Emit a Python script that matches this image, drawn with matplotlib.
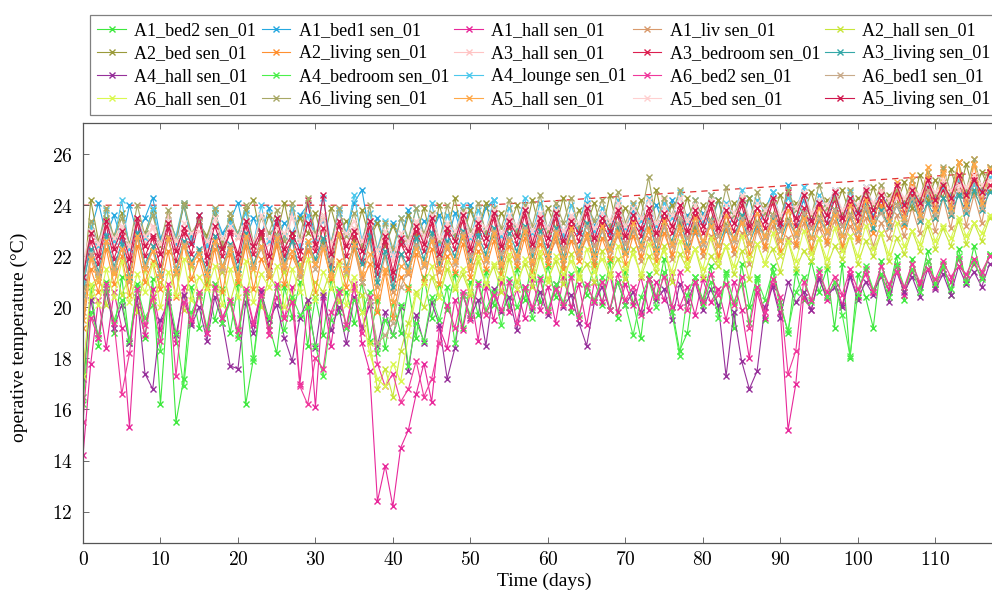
import numpy as np
import matplotlib.pyplot as plt
from matplotlib.ticker import FuncFormatter

plt.rcParams['mathtext.fontset'] = 'cm'

# daily samples (day 0 .. 117), operative temperature in degC
a1_bed2 = [16.5, 20.8, 18.5, 21.0, 19.0, 21.2, 18.6, 20.9, 18.8, 21.1, 16.2, 20.5, 15.5, 17.2, 20.8, 19.2, 21.0, 19.5, 20.7, 19.0,
           20.9, 16.2, 18.0, 20.6, 19.3, 18.2, 20.8, 19.6, 21.0, 18.5, 20.4, 18.9, 21.1, 19.8, 20.6, 19.4, 21.0, 18.7, 20.3, 18.4,
           20.2, 19.0, 20.8, 18.8, 21.2, 19.6, 20.9, 19.9, 21.3, 19.2, 21.0, 19.7, 21.4, 20.1, 21.6, 20.0, 21.5, 20.3, 21.8, 20.2,
           21.6, 20.4, 21.9, 19.8, 21.5, 20.5, 21.7, 20.1, 21.8, 19.6, 21.4, 20.2, 18.8, 21.3, 20.4, 21.9, 20.0, 18.3, 19.0, 21.2,
           20.3, 21.6, 19.9, 21.4, 19.2, 21.7, 20.0, 21.2, 19.5, 21.6, 20.2, 19.0, 21.4, 20.3, 21.8, 20.6, 21.5, 19.2, 21.7, 18.0,
           21.3, 20.4, 19.2, 21.8, 20.6, 22.0, 20.3, 21.9, 20.8, 22.2, 20.9, 21.7, 20.5, 22.3, 21.0, 22.4, 21.2, 22.1]
a1_bed1 = [21.0, 23.0, 24.1, 22.8, 23.6, 22.6, 24.0, 22.9, 23.5, 24.3, 22.7, 23.4, 22.5, 24.0, 22.8, 23.3, 22.6, 23.7, 22.9, 23.4,
           24.1, 22.7, 23.5, 22.8, 23.9, 22.6, 23.3, 22.9, 23.6, 24.0, 22.8, 23.4, 22.5, 23.7, 22.9, 24.1, 24.6, 22.8, 23.5, 22.4,
           23.3, 22.6, 23.8, 22.7, 23.4, 22.9, 23.6, 22.5, 23.7, 22.8, 24.0, 22.9, 23.9, 24.2, 22.8, 23.5, 23.0, 23.8, 22.9, 23.6,
           23.1, 23.9, 22.9, 23.5, 23.0, 24.1, 23.2, 23.7, 22.9, 23.6, 23.1, 23.8, 23.0, 23.5, 24.0, 23.2, 24.2, 23.1, 23.6, 22.9,
           23.7, 23.2, 24.2, 23.0, 23.6, 23.3, 24.3, 23.1, 23.8, 24.5, 23.2, 24.8, 23.3, 24.2, 23.4, 24.0, 23.3, 24.4, 23.5, 24.0,
           23.4, 24.1, 23.6, 24.2, 23.5, 24.3, 23.7, 24.6, 23.8, 24.4, 23.9, 24.7, 24.0, 24.5, 24.1, 24.9, 24.2, 24.6]
a1_hall = [14.2, 17.8, 20.3, 18.4, 20.6, 19.2, 15.3, 20.1, 18.9, 20.7, 19.1, 20.4, 18.6, 20.8, 19.4, 20.5, 19.0, 20.9, 19.6, 20.2,
           18.9, 20.6, 19.3, 20.7, 19.1, 20.4, 19.6, 20.8, 17.0, 20.1, 16.1, 20.4, 18.5, 20.6, 19.2, 20.9, 18.6, 17.5, 12.4, 13.8,
           12.2, 14.5, 15.2, 16.6, 17.8, 16.3, 19.2, 18.4, 20.3, 19.1, 20.6, 18.7, 20.8, 19.5, 21.0, 19.8, 20.7, 19.6, 21.1, 19.9,
           20.8, 19.4, 21.2, 20.0, 20.9, 19.3, 21.0, 20.2, 21.3, 19.8, 20.9, 20.1, 21.2, 19.9, 21.0, 20.3, 21.4, 20.0, 20.8, 19.7,
           21.1, 20.2, 20.7, 19.5, 21.0, 19.9, 18.0, 20.6, 19.6, 20.9, 19.8, 15.2, 17.0, 20.4, 19.9, 21.2, 20.3, 21.0, 20.1, 21.3,
           20.4, 21.5, 20.6, 21.2, 20.7, 21.6, 20.5, 21.4, 20.9, 21.8, 20.8, 21.5, 21.0, 21.9, 21.1, 21.7, 21.2, 22.0]
a1_liv = [19.8, 22.0, 21.2, 22.6, 21.4, 22.3, 21.0, 22.7, 21.5, 22.4, 21.2, 22.8, 21.3, 22.5, 21.6, 22.2, 21.1, 22.6, 21.4, 22.3,
          21.0, 22.5, 21.6, 22.8, 21.3, 22.4, 21.5, 22.7, 21.2, 22.3, 21.7, 22.6, 21.4, 22.9, 21.5, 22.4, 21.2, 22.6, 20.8, 22.0,
          20.6, 22.1, 21.3, 22.5, 21.6, 22.7, 21.4, 22.3, 21.8, 22.8, 21.5, 22.6, 21.9, 22.9, 21.6, 22.7, 21.8, 23.0, 21.7, 22.8,
          21.9, 22.6, 21.7, 22.9, 22.0, 22.7, 21.8, 23.1, 21.9, 22.8, 22.1, 23.0, 21.8, 22.7, 22.0, 23.2, 21.9, 22.9, 22.2, 23.0,
          22.0, 22.8, 21.9, 23.1, 22.1, 22.9, 21.7, 23.0, 22.3, 23.2, 22.0, 22.7, 22.4, 23.3, 22.2, 23.1, 22.5, 23.4, 22.3, 23.2,
          22.6, 23.5, 22.4, 23.3, 22.7, 23.6, 22.8, 23.9, 22.9, 24.1, 23.0, 24.3, 23.1, 24.6, 23.2, 24.4, 23.3, 24.8]
a2_hall = [17.5, 20.4, 21.3, 20.1, 21.6, 20.5, 21.2, 19.8, 21.5, 20.3, 21.0, 20.6, 21.4, 19.9, 21.7, 20.4, 21.1, 20.7, 21.5, 20.2,
           21.3, 20.5, 21.6, 20.0, 21.2, 20.8, 21.4, 20.3, 21.7, 20.1, 21.0, 20.6, 21.5, 20.2, 21.3, 20.7, 20.5, 18.6, 16.8, 17.6,
           16.5, 18.3, 19.4, 20.6, 20.0, 21.2, 20.4, 21.5, 20.7, 21.3, 20.5, 21.8, 20.9, 21.6, 20.6, 21.9, 21.0, 21.7, 20.8, 22.0,
           21.1, 21.8, 20.9, 22.1, 21.2, 21.7, 21.0, 22.2, 21.3, 21.9, 21.1, 22.3, 21.2, 22.0, 21.4, 22.4, 21.0, 22.1, 21.5, 22.3,
           21.2, 22.0, 21.6, 22.4, 21.3, 22.2, 21.1, 22.5, 21.7, 22.3, 21.4, 22.6, 21.5, 22.2, 21.8, 22.7, 21.6, 22.4, 21.9, 22.8,
           21.7, 22.6, 22.0, 22.9, 21.8, 22.7, 22.1, 23.0, 22.2, 23.2, 22.3, 23.1, 22.4, 23.4, 22.5, 23.3, 22.6, 23.5]
a2_bed = [20.5, 24.2, 22.6, 23.5, 22.8, 23.7, 22.5, 23.4, 22.9, 23.8, 22.4, 23.6, 22.7, 24.0, 22.6, 23.3, 22.8, 23.7, 22.5, 23.5,
          22.9, 23.8, 24.2, 22.7, 23.6, 22.8, 24.1, 22.6, 23.5, 22.9, 23.7, 22.5, 23.9, 22.8, 23.4, 22.6, 23.8, 22.7, 23.3, 22.4,
          23.2, 22.5, 23.6, 22.8, 23.9, 22.6, 24.0, 22.9, 24.3, 22.7, 23.8, 23.0, 24.1, 22.8, 23.7, 23.1, 24.0, 22.9, 24.2, 23.0,
          23.9, 23.1, 24.3, 22.9, 23.8, 23.2, 24.1, 23.0, 24.4, 23.1, 23.9, 23.3, 24.2, 23.0, 24.6, 23.2, 24.0, 23.3, 24.3, 23.1,
          24.0, 23.4, 24.2, 23.2, 24.1, 23.5, 24.3, 23.3, 24.0, 23.6, 24.4, 23.4, 24.1, 23.7, 24.5, 23.5, 24.2, 23.8, 24.6, 23.6,
          24.3, 23.9, 24.7, 23.8, 24.4, 24.0, 24.9, 23.9, 25.2, 24.2, 25.0, 24.3, 25.4, 24.4, 25.6, 24.5, 25.3, 24.6]
a2_living = [19.2, 21.5, 20.6, 22.3, 20.9, 22.0, 20.5, 22.4, 21.0, 21.8, 20.7, 22.2, 20.4, 22.5, 21.1, 21.9, 20.8, 22.3, 20.6, 22.1,
             21.0, 22.4, 20.7, 21.9, 21.2, 22.5, 20.9, 22.0, 21.3, 22.2, 20.6, 22.4, 21.1, 21.8, 20.8, 22.3, 21.0, 21.7, 19.8, 21.4,
             19.6, 21.2, 20.7, 22.1, 21.0, 22.3, 20.9, 22.0, 21.4, 22.5, 21.2, 22.2, 21.5, 22.6, 21.3, 22.4, 21.6, 22.7, 21.4, 22.5,
             21.7, 22.8, 21.5, 22.6, 21.8, 22.9, 21.6, 22.7, 21.9, 23.0, 21.7, 22.8, 22.0, 23.1, 21.8, 22.9, 22.1, 23.2, 21.9, 23.0,
             22.2, 23.3, 22.0, 23.1, 22.3, 23.4, 22.1, 23.2, 22.4, 23.5, 22.2, 23.3, 22.5, 23.6, 22.3, 23.4, 22.6, 23.7, 22.4, 23.5,
             22.7, 23.8, 22.9, 24.0, 23.1, 24.4, 23.2, 24.8, 23.4, 25.1, 23.5, 25.4, 23.6, 25.7, 23.8, 25.8, 23.9, 25.5]
a3_hall = [21.5, 22.9, 22.2, 23.4, 22.4, 23.1, 22.0, 23.5, 22.5, 23.2, 22.1, 23.6, 22.3, 23.0, 22.6, 23.3, 22.2, 23.5, 22.4, 23.1,
           22.7, 23.4, 22.3, 23.6, 22.5, 23.2, 22.1, 23.7, 22.6, 23.3, 22.4, 23.5, 22.2, 23.8, 22.5, 23.1, 22.7, 23.4, 21.9, 23.0,
           21.8, 22.9, 22.4, 23.3, 22.6, 23.6, 22.3, 23.2, 22.8, 23.7, 22.5, 23.4, 22.9, 23.8, 22.6, 23.5, 23.0, 23.9, 22.7, 23.6,
           22.9, 23.8, 22.8, 23.5, 23.1, 24.0, 22.9, 23.7, 23.2, 23.9, 23.0, 24.1, 22.8, 23.6, 23.3, 24.2, 23.1, 23.8, 23.4, 24.0,
           23.2, 24.1, 23.0, 23.7, 23.5, 24.3, 23.1, 23.9, 23.6, 24.2, 23.3, 24.0, 23.4, 24.4, 23.2, 24.1, 23.7, 24.5, 23.5, 24.2,
           23.6, 24.4, 23.8, 24.6, 23.7, 24.3, 23.9, 24.7, 24.0, 24.5, 24.1, 24.8, 24.2, 24.6, 24.3, 25.0, 24.4, 24.7]
a3_bedroom = [20.8, 22.6, 21.7, 23.2, 21.9, 22.8, 21.5, 23.3, 22.0, 22.7, 21.6, 23.1, 21.8, 22.9, 22.1, 23.4, 21.7, 22.8, 22.0, 23.0,
              21.8, 23.2, 22.1, 22.9, 21.6, 23.3, 22.0, 22.7, 21.9, 24.2, 22.2, 23.1, 21.7, 23.4, 22.0, 22.8, 21.8, 23.2, 21.3, 22.6,
              21.1, 22.5, 21.9, 23.0, 22.2, 23.3, 21.8, 22.9, 22.3, 23.4, 22.0, 23.1, 22.4, 23.5, 22.1, 23.2, 22.5, 23.6, 22.2, 23.3,
              22.4, 23.5, 22.3, 23.2, 22.6, 23.7, 22.4, 23.3, 22.7, 23.6, 22.5, 23.4, 22.8, 23.7, 22.6, 23.5, 22.9, 23.8, 22.7, 23.6,
              22.9, 23.9, 22.8, 23.6, 23.0, 24.0, 22.9, 23.7, 23.1, 24.1, 23.0, 24.5, 23.2, 23.9, 23.1, 24.0, 23.3, 24.2, 23.2, 24.1,
              23.4, 24.3, 23.5, 24.2, 23.6, 24.5, 23.7, 24.4, 23.8, 24.7, 23.9, 24.6, 24.0, 24.9, 24.1, 25.1, 24.2, 24.8]
a3_living = [20.9, 22.3, 21.4, 22.8, 21.6, 22.5, 21.2, 22.9, 21.7, 22.4, 21.3, 22.7, 21.5, 22.6, 21.8, 22.3, 21.4, 22.8, 21.6, 22.5,
             21.5, 22.9, 21.7, 22.4, 21.3, 22.8, 21.8, 22.6, 21.4, 22.5, 21.9, 22.7, 21.5, 22.9, 21.6, 22.4, 21.7, 22.8, 21.0, 22.2,
             20.8, 22.1, 21.6, 22.7, 21.9, 22.9, 21.7, 22.6, 22.0, 23.0, 21.8, 22.8, 22.1, 23.1, 21.9, 22.9, 22.2, 23.2, 22.0, 23.0,
             22.1, 23.1, 22.0, 22.9, 22.3, 23.3, 22.1, 23.0, 22.4, 23.2, 22.2, 23.1, 22.5, 23.4, 22.3, 23.2, 22.6, 23.5, 22.4, 23.3,
             22.5, 23.4, 22.4, 23.2, 22.7, 23.6, 22.5, 23.3, 22.8, 23.5, 22.6, 23.4, 22.9, 23.7, 22.7, 23.5, 23.0, 23.8, 22.8, 23.6,
             23.0, 23.9, 23.1, 23.8, 23.2, 24.0, 23.3, 24.2, 23.4, 24.1, 23.5, 24.3, 23.6, 24.4, 23.7, 24.6, 23.8, 24.5]
a4_hall = [17.2, 20.3, 18.8, 20.6, 19.2, 20.1, 18.6, 20.4, 17.4, 16.8, 19.5, 20.2, 18.9, 20.5, 19.3, 20.0, 18.7, 20.4, 19.4, 17.7,
           17.6, 20.2, 19.0, 20.6, 19.5, 20.1, 18.8, 17.9, 19.6, 20.3, 18.4, 20.5, 19.1, 20.0, 18.6, 20.4, 19.2, 20.1, 18.5, 19.8,
           18.9, 20.0, 17.5, 19.7, 18.6, 20.2, 19.3, 17.2, 18.4, 20.5, 19.6, 20.3, 18.5, 20.7, 19.8, 20.4, 19.1, 20.8, 19.9, 20.6,
           19.7, 20.9, 20.0, 20.5, 19.4, 18.5, 20.2, 20.8, 19.9, 21.0, 20.1, 20.6, 19.8, 21.1, 20.3, 20.7, 19.5, 20.9, 20.2, 21.0,
           19.9, 20.7, 20.1, 17.3, 19.8, 17.9, 16.8, 17.5, 20.0, 20.8, 19.6, 21.0, 20.2, 20.6, 19.9, 21.1, 20.4, 20.8, 20.0, 21.2,
           20.3, 21.0, 20.5, 21.3, 20.2, 21.4, 20.6, 21.2, 20.4, 21.5, 20.7, 21.3, 20.5, 21.6, 20.9, 21.4, 20.8, 21.7]
a4_bedroom = [16.2, 19.8, 18.9, 20.7, 19.5, 20.3, 18.7, 20.8, 19.6, 20.1, 18.3, 20.6, 19.0, 16.9, 19.8, 20.5, 19.2, 20.9, 19.4, 20.2,
              18.8, 20.6, 17.9, 20.3, 19.6, 20.8, 19.1, 20.4, 19.7, 20.0, 18.5, 17.3, 19.5, 20.7, 19.2, 20.3, 19.8, 20.6, 18.2, 19.5,
              18.9, 20.1, 17.7, 19.4, 18.7, 20.4, 19.5, 20.8, 18.6, 20.5, 19.7, 21.0, 19.9, 20.6, 19.3, 21.1, 20.0, 20.7, 19.6, 21.2,
              19.9, 20.9, 20.2, 21.3, 19.7, 20.8, 20.3, 21.2, 19.9, 21.0, 20.1, 18.9, 20.4, 21.1, 20.0, 21.4, 19.8, 18.1, 20.5, 21.2,
              20.1, 21.0, 19.6, 21.3, 20.2, 20.9, 19.4, 21.1, 20.3, 21.4, 20.0, 19.1, 20.6, 21.2, 20.2, 21.5, 20.4, 21.0, 19.7, 18.1,
              20.5, 21.6, 20.7, 21.3, 20.4, 21.7, 20.8, 21.5, 20.6, 21.8, 20.9, 21.6, 20.7, 22.0, 21.0, 21.8, 21.1, 22.1]
a4_lounge = [20.5, 23.2, 22.4, 23.8, 22.6, 24.2, 22.3, 23.5, 22.7, 23.9, 22.5, 23.4, 22.8, 24.1, 22.6, 23.6, 22.4, 23.8, 22.7, 23.3,
             22.9, 23.7, 22.5, 24.0, 22.6, 23.5, 22.8, 23.9, 22.4, 23.6, 22.7, 24.3, 22.5, 23.8, 22.9, 24.4, 22.6, 23.7, 22.3, 23.4,
             22.1, 23.5, 22.6, 23.9, 22.8, 24.1, 22.5, 23.6, 22.9, 24.0, 22.7, 23.8, 23.0, 24.2, 22.8, 23.9, 23.1, 24.3, 22.9, 24.1,
             23.0, 23.8, 22.8, 24.0, 23.2, 24.4, 23.0, 23.9, 23.3, 24.2, 23.1, 24.0, 23.4, 24.3, 23.2, 24.1, 23.5, 24.5, 23.3, 24.2,
             23.4, 24.4, 23.3, 24.1, 23.6, 24.6, 23.4, 24.2, 23.7, 24.5, 23.5, 24.3, 23.8, 24.7, 23.6, 24.4, 23.9, 24.6, 23.7, 24.5,
             23.8, 24.7, 24.0, 24.5, 23.9, 24.8, 24.1, 24.6, 24.2, 24.9, 24.3, 24.7, 24.4, 25.0, 24.5, 24.8, 24.6, 25.1]
a6_bed2 = [15.5, 19.6, 18.8, 20.9, 19.4, 16.6, 18.2, 20.7, 19.3, 20.4, 18.7, 20.9, 17.3, 20.2, 19.5, 20.6, 19.0, 20.8, 19.6, 20.3,
           19.1, 20.7, 19.4, 20.5, 18.9, 20.9, 19.6, 20.2, 16.9, 16.2, 18.0, 17.6, 19.8, 20.6, 19.3, 20.8, 19.0, 20.4, 17.8, 16.9,
           17.4, 16.3, 16.8, 17.9, 16.5, 17.2, 18.6, 20.1, 19.2, 20.6, 19.5, 20.9, 19.7, 20.5, 19.9, 21.0, 19.4, 20.8, 20.0, 21.1,
           19.8, 20.7, 20.1, 21.2, 19.6, 20.9, 20.2, 21.0, 19.9, 21.3, 20.3, 20.8, 19.7, 21.1, 20.4, 21.2, 20.0, 21.4, 19.9, 21.0,
           20.2, 21.3, 20.5, 20.9, 20.1, 21.2, 19.2, 20.8, 19.8, 21.1, 20.4, 17.4, 18.3, 21.0, 20.3, 21.4, 20.6, 21.2, 20.5, 21.5,
           20.7, 21.3, 20.6, 21.6, 20.9, 21.4, 20.8, 21.7, 21.0, 21.5, 21.1, 21.8, 21.2, 21.6, 21.3, 21.9, 21.4, 22.0]
a6_bed1 = [20.2, 22.1, 21.3, 22.6, 21.5, 22.3, 21.1, 22.8, 21.6, 22.2, 21.2, 22.7, 21.4, 22.5, 21.7, 22.1, 21.3, 22.6, 21.5, 22.4,
           21.2, 22.7, 21.6, 22.3, 21.4, 22.8, 21.7, 22.2, 21.3, 22.6, 21.5, 22.4, 21.8, 22.9, 21.4, 22.5, 21.0, 20.2, 18.6, 18.9,
           19.4, 20.8, 21.5, 22.4, 21.6, 22.7, 21.9, 22.5, 21.7, 22.9, 22.0, 22.6, 21.8, 23.0, 22.1, 22.7, 21.9, 23.1, 22.2, 22.8,
           22.0, 23.0, 22.3, 22.9, 22.1, 23.2, 22.4, 23.0, 22.2, 23.3, 22.5, 23.1, 22.3, 23.4, 22.6, 23.2, 22.4, 23.5, 22.7, 23.3,
           22.5, 23.4, 22.8, 23.2, 22.6, 23.5, 22.9, 23.3, 22.7, 23.6, 23.0, 23.4, 22.8, 23.7, 23.1, 23.5, 22.9, 23.8, 23.2, 23.6,
           23.0, 23.9, 23.3, 23.7, 23.1, 24.0, 23.4, 24.3, 23.5, 24.6, 23.6, 24.9, 23.7, 25.2, 23.8, 25.0, 23.9, 25.3]
a6_hall = [17.3, 20.9, 20.1, 21.5, 20.4, 21.8, 20.2, 21.3, 20.6, 21.7, 20.0, 21.4, 20.5, 21.9, 20.3, 21.2, 20.7, 21.6, 20.1, 21.5,
           20.4, 21.8, 20.2, 21.3, 20.8, 21.6, 20.0, 21.5, 20.6, 21.9, 20.3, 21.4, 20.7, 21.7, 20.1, 21.2, 19.8, 18.2, 17.2, 16.9,
           17.8, 17.1, 18.9, 20.5, 20.9, 21.6, 20.4, 21.8, 20.8, 21.5, 20.6, 22.0, 20.9, 21.7, 21.1, 22.1, 20.7, 21.9, 21.2, 22.2,
           21.0, 22.0, 21.3, 21.8, 21.1, 22.3, 21.4, 21.9, 21.2, 22.4, 21.5, 22.1, 21.3, 22.5, 21.6, 22.2, 21.4, 22.6, 21.7, 22.3,
           21.5, 22.7, 21.8, 22.4, 21.6, 22.8, 21.9, 22.5, 21.7, 22.9, 22.0, 22.6, 21.8, 23.0, 22.1, 22.7, 21.9, 23.1, 22.2, 22.8,
           22.0, 23.2, 22.3, 22.9, 22.1, 23.3, 22.4, 23.0, 22.5, 23.4, 22.6, 23.2, 22.7, 23.5, 22.8, 23.3, 22.9, 23.6]
a6_living = [20.8, 23.4, 22.5, 23.9, 22.7, 23.5, 22.4, 24.0, 22.8, 23.6, 22.5, 23.8, 22.6, 24.1, 22.9, 23.4, 22.6, 23.9, 22.4, 23.7,
             22.8, 24.0, 22.5, 23.5, 22.9, 23.8, 22.6, 24.1, 22.7, 24.3, 22.9, 23.6, 22.5, 23.9, 22.8, 23.7, 22.4, 24.0, 22.2, 23.3,
             22.3, 23.5, 22.7, 23.9, 22.9, 23.7, 22.6, 24.0, 22.8, 23.8, 23.0, 24.1, 22.9, 23.9, 23.1, 24.2, 22.9, 24.0, 23.2, 24.4,
             23.0, 24.1, 23.3, 24.3, 23.1, 24.0, 23.4, 24.2, 23.2, 24.5, 23.3, 24.1, 23.5, 25.1, 23.3, 24.3, 23.6, 24.6, 23.4, 24.2,
             23.5, 24.4, 23.3, 24.7, 23.6, 24.3, 23.4, 24.5, 23.7, 24.2, 23.5, 24.6, 23.8, 24.4, 23.6, 24.8, 23.9, 24.3, 23.7, 24.6,
             23.9, 24.5, 24.0, 24.8, 24.1, 24.6, 24.2, 25.0, 24.3, 25.3, 24.4, 25.5, 24.5, 25.7, 24.6, 25.8, 24.7, 25.5]
a5_hall = [19.5, 21.9, 21.0, 22.6, 21.3, 22.3, 21.1, 22.8, 21.5, 22.2, 21.2, 22.7, 21.4, 22.4, 21.7, 22.1, 21.3, 22.6, 21.6, 22.3,
           21.2, 22.8, 21.5, 22.4, 21.3, 22.7, 21.6, 22.2, 21.4, 22.6, 21.7, 22.3, 21.2, 22.9, 21.5, 22.5, 21.3, 22.1, 20.4, 21.5,
           20.2, 21.6, 21.4, 22.3, 21.7, 22.6, 21.5, 22.4, 21.8, 22.8, 21.6, 22.5, 21.9, 22.9, 21.7, 22.6, 22.0, 23.0, 21.8, 22.7,
           22.0, 22.9, 21.9, 23.1, 22.2, 22.8, 22.0, 23.2, 22.3, 22.9, 22.1, 23.3, 22.4, 23.0, 22.2, 23.4, 22.5, 23.1, 22.3, 23.5,
           22.6, 23.2, 22.4, 23.6, 22.7, 23.3, 22.5, 23.7, 22.8, 23.4, 22.6, 23.8, 22.9, 23.5, 22.7, 23.9, 23.0, 23.6, 22.8, 24.0,
           23.1, 24.2, 23.3, 24.5, 23.4, 24.9, 23.5, 25.2, 23.6, 25.5, 23.8, 25.3, 23.9, 25.7, 24.0, 25.6, 24.1, 25.4]
a5_bed = [21.8, 23.0, 22.5, 23.4, 22.7, 23.2, 22.4, 23.5, 22.8, 23.1, 22.5, 23.4, 22.6, 23.3, 22.9, 23.0, 22.6, 23.5, 22.7, 23.2,
          22.8, 23.4, 22.5, 23.6, 22.7, 23.1, 22.9, 23.5, 22.6, 23.3, 22.8, 23.6, 22.5, 23.2, 22.9, 23.4, 22.6, 23.3, 22.2, 23.0,
          22.0, 22.9, 22.6, 23.4, 22.8, 23.6, 22.7, 23.3, 23.0, 23.7, 22.8, 23.5, 23.1, 23.8, 22.9, 23.6, 23.2, 23.9, 23.0, 23.7,
          23.1, 23.8, 23.0, 23.6, 23.3, 24.0, 23.1, 23.7, 23.4, 24.1, 23.2, 23.9, 23.5, 24.2, 23.3, 23.9, 23.6, 24.3, 23.4, 24.0,
          23.5, 24.2, 23.3, 24.0, 23.7, 24.4, 23.5, 24.1, 23.8, 24.3, 23.6, 24.0, 23.9, 24.5, 23.7, 24.2, 24.0, 24.6, 23.8, 24.3,
          24.0, 24.7, 24.1, 24.5, 24.2, 24.8, 24.3, 24.6, 24.4, 24.9, 24.5, 25.0, 24.6, 24.8, 24.7, 25.2, 24.8, 25.0]
a5_living = [21.2, 22.9, 22.0, 23.4, 22.3, 23.0, 21.9, 23.5, 22.4, 22.8, 22.1, 23.3, 22.2, 23.1, 22.5, 23.6, 22.0, 23.2, 22.3, 22.9,
             22.1, 23.4, 22.4, 23.0, 22.0, 23.5, 22.3, 22.9, 22.2, 23.3, 22.5, 24.4, 22.1, 23.2, 22.4, 23.0, 22.2, 23.4, 21.6, 22.8,
             21.4, 22.7, 22.2, 23.2, 22.5, 23.5, 22.1, 23.1, 22.6, 23.6, 22.3, 23.3, 22.7, 23.7, 22.4, 23.4, 22.8, 23.8, 22.5, 23.5,
             22.7, 23.7, 22.6, 23.4, 22.9, 23.9, 22.7, 23.5, 23.0, 23.8, 22.8, 23.6, 23.1, 23.9, 22.9, 23.7, 23.2, 24.0, 23.0, 23.8,
             23.2, 24.1, 23.1, 23.8, 23.3, 24.2, 23.2, 23.9, 23.4, 24.3, 23.3, 24.0, 23.5, 24.4, 23.4, 24.1, 23.6, 24.5, 23.5, 24.3,
             23.7, 24.6, 23.8, 24.4, 23.9, 24.8, 24.0, 24.6, 24.1, 25.0, 24.2, 24.8, 24.3, 25.2, 24.4, 25.0, 24.5, 25.3]

labels = ['A1_bed2 sen_01', 'A1_bed1 sen_01', 'A1_hall sen_01', 'A1_liv sen_01', 'A2_hall sen_01',
          'A2_bed sen_01', 'A2_living sen_01', 'A3_hall sen_01', 'A3_bedroom sen_01', 'A3_living sen_01',
          'A4_hall sen_01', 'A4_bedroom sen_01', 'A4_lounge sen_01', 'A6_bed2 sen_01', 'A6_bed1 sen_01',
          'A6_hall sen_01', 'A6_living sen_01', 'A5_hall sen_01', 'A5_bed sen_01', 'A5_living sen_01']
series = [a1_bed2, a1_bed1, a1_hall, a1_liv, a2_hall, a2_bed, a2_living, a3_hall, a3_bedroom, a3_living,
          a4_hall, a4_bedroom, a4_lounge, a6_bed2, a6_bed1, a6_hall, a6_living, a5_hall, a5_bed, a5_living]
colors = ['#3ee83e', '#25a8e0', '#e8289a', '#d99a6c', '#c8e63a',
          '#9a9a3a', '#ff9030', '#ffc4c4', '#dc1f50', '#35a8a8',
          '#96309a', '#4cf04c', '#4cc8ec', '#f0389c', '#c8aa8a',
          '#daf850', '#a8a866', '#ffa848', '#ffd0d0', '#d0184e']

# comfort limit (dashed)
limit_days = [0, 52, 119]
limit_temp = [24.0, 24.0, 25.32]

fig = plt.figure(figsize=(9.92, 5.93), dpi=100)
ax = fig.add_axes([83 / 992, 50 / 593, 922 / 992, 420 / 593])

ax.plot(limit_days, limit_temp, color='#e03030', ls=(0, (5, 4)), lw=0.9, zorder=1)

handles = []
for lab, vals, col in zip(labels, series, colors):
    h, = ax.plot(np.arange(len(vals)), vals, color=col, lw=0.8, marker='x',
                 markersize=4.5, markeredgewidth=1.0, label=lab, zorder=2)
    handles.append(h)

ax.set_xlim(0, 119)
ax.set_ylim(10.77, 27.22)
ax.set_xticks(np.arange(0, 111, 10))
ax.set_yticks(np.arange(12, 27, 2))
fmt = FuncFormatter(lambda v, p: '$%d$' % v)
ax.xaxis.set_major_formatter(fmt)
ax.yaxis.set_major_formatter(fmt)
ax.tick_params(direction='in', length=4, width=0.6, color='#555555', top=True, right=True,
               labelsize=14, pad=7.5)
ax.tick_params(axis='x', pad=5)
for s in ax.spines.values():
    s.set_color('#555555')
    s.set_linewidth(0.9)

ax.set_xlabel('Time (days)', family='Liberation Serif', fontsize=14)
ax.set_ylabel('operative temperature (°C)', family='Liberation Serif', fontsize=14)
ax.yaxis.set_label_coords(-0.06, 0.49)
ax.xaxis.set_label_coords((544 - 83) / 922, -0.071)

# legend is filled row by row
order = [r * 5 + c for c in range(5) for r in range(4)]
leg = fig.legend([handles[i] for i in order], [labels[i] for i in order], ncol=5,
                 loc='upper left', bbox_to_anchor=(90 / 992, 1 - 15 / 593),
                 prop={'family': 'Liberation Serif', 'size': 13},
                 frameon=True, fancybox=False, framealpha=1, edgecolor='#808080',
                 handlelength=1.6, handletextpad=0.45, columnspacing=0.3,
                 labelspacing=0.33, borderpad=0.4, borderaxespad=0)
leg.get_frame().set_linewidth(0.9)

plt.savefig('out.png', dpi=100)
